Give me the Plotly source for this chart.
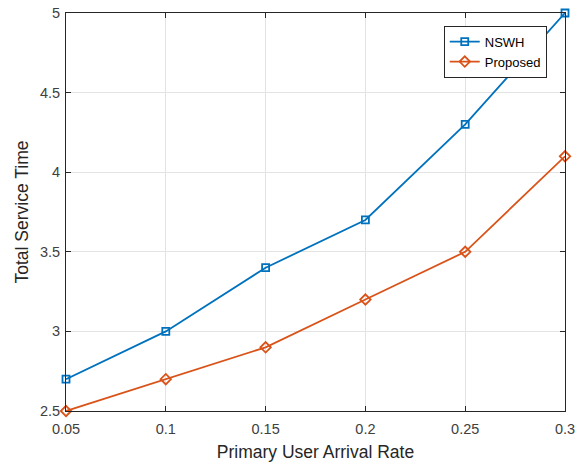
import plotly.graph_objects as go

x_vals = [0.05, 0.1, 0.15, 0.2, 0.25, 0.3]
nswh = [2.7, 3.0, 3.4, 3.7, 4.3, 5.0]
proposed = [2.5, 2.7, 2.9, 3.2, 3.5, 4.1]
x_ticks = [0.05, 0.1, 0.15, 0.2, 0.25, 0.3]
x_tick_labels = ["0.05", "0.1", "0.15", "0.2", "0.25", "0.3"]
y_ticks = [2.5, 3, 3.5, 4, 4.5, 5]
y_tick_labels = ["2.5", "3", "3.5", "4", "4.5", "5"]

FONT = "Liberation Sans, Arial, Helvetica, sans-serif"

fig = go.Figure()
fig.add_trace(go.Scatter(
    x=x_vals, y=nswh, name="NSWH", mode="lines+markers",
    line=dict(color="#0072BD", width=1.8),
    marker=dict(symbol="square-open", size=7, color="#0072BD", line=dict(width=1.8)),
    cliponaxis=False,
))
fig.add_trace(go.Scatter(
    x=x_vals, y=proposed, name="Proposed", mode="lines+markers",
    line=dict(color="#D95319", width=1.8),
    marker=dict(symbol="diamond-open", size=8, color="#D95319", line=dict(width=1.8)),
    cliponaxis=False,
))

axis_common = dict(
    showline=True, linecolor="#262626", linewidth=1, mirror="ticks",
    ticks="inside", ticklen=5, tickcolor="#262626",
    showgrid=True, gridcolor="#E3E3E3", gridwidth=1,
    zeroline=False, automargin=False,
    tickfont=dict(family=FONT, size=14.5, color="#404040"),
)

fig.update_layout(
    template="none",
    width=584, height=462,
    margin=dict(l=66, r=19, t=13, b=51),
    paper_bgcolor="white", plot_bgcolor="white",
    font=dict(family=FONT, color="#262626"),
    xaxis=dict(range=[0.05, 0.3], tickvals=x_ticks, ticktext=x_tick_labels,
               ticklabelstandoff=5,
               title=dict(text="Primary User Arrival Rate", font=dict(size=17.5, color="#262626"), standoff=11),
               **axis_common),
    yaxis=dict(range=[2.5, 5], tickvals=y_ticks, ticktext=y_tick_labels,
               ticklabelstandoff=2,
               title=dict(text="Total Service Time", font=dict(size=17.5, color="#262626"), standoff=6),
               **axis_common),
    legend=dict(x=0.757, y=0.968, xanchor="left", yanchor="top",
                bgcolor="white", bordercolor="#262626", borderwidth=1,
                font=dict(size=13, color="#000000"),
                tracegroupgap=0, itemwidth=30),
    showlegend=True,
)

fig.write_html("out.html", config={"displayModeBar": False},
               post_script="document.body.style.margin='0';document.body.style.overflow='hidden';")
